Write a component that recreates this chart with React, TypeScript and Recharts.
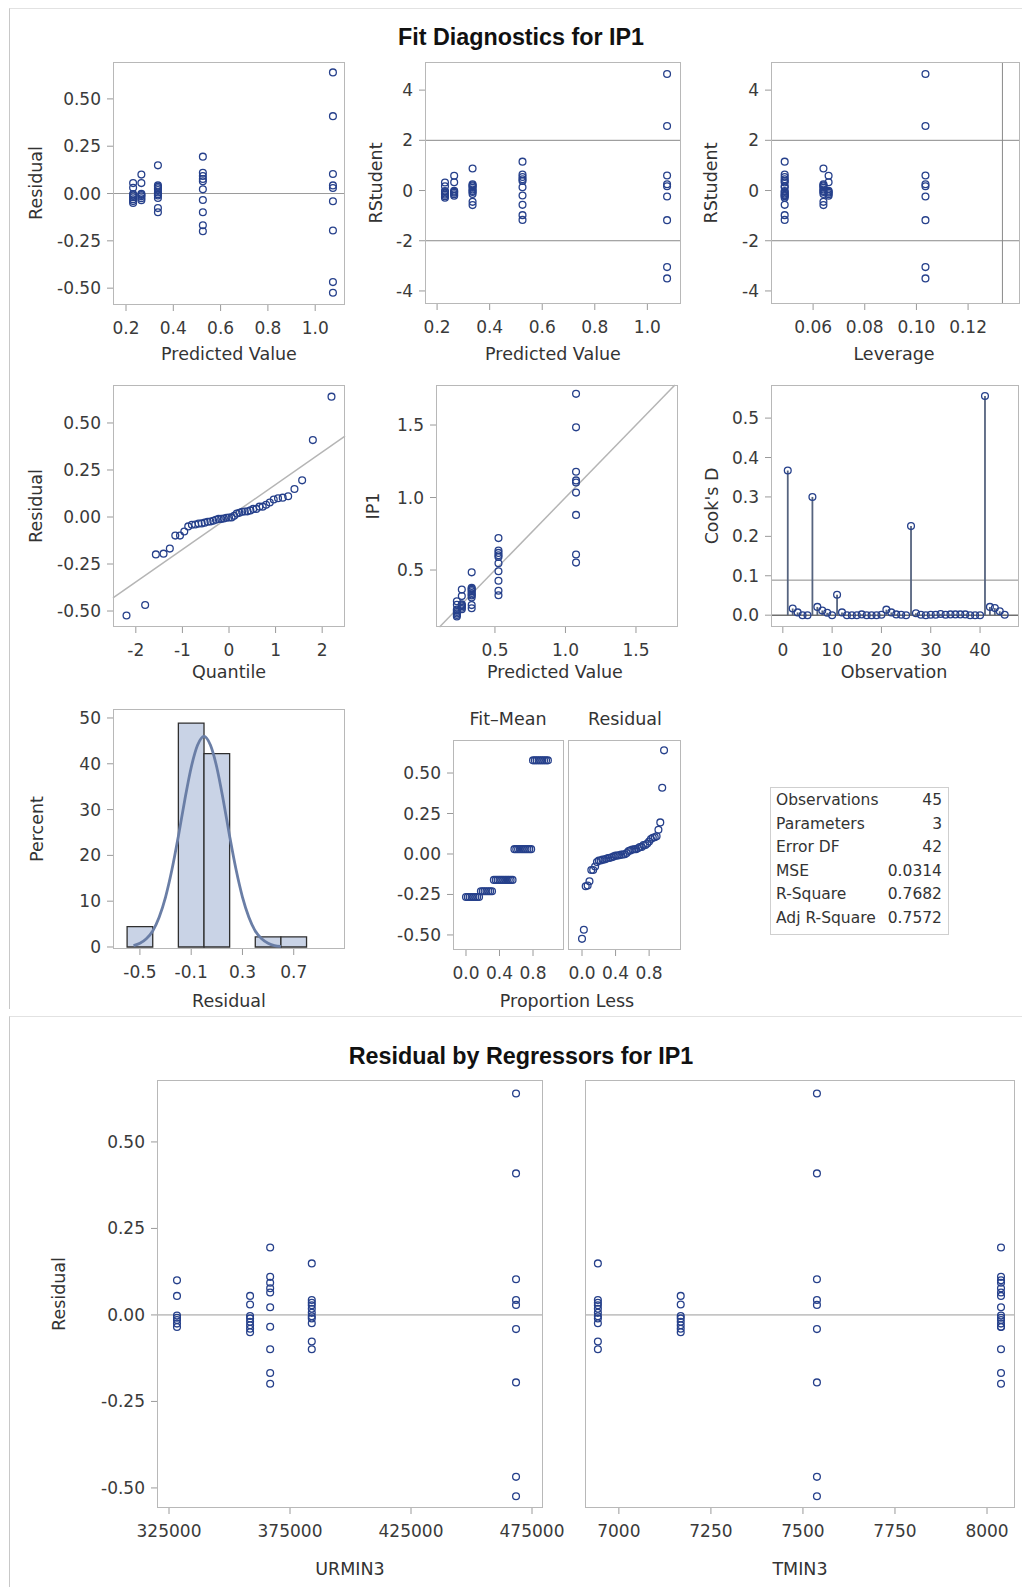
import React from 'react';
import {
  ScatterChart,
  ComposedChart,
  Scatter,
  Line,
  XAxis,
  YAxis,
  ReferenceLine,
  ReferenceArea,
  ErrorBar,
} from 'recharts';

// five fitted cells (A..E) of the model
const GROUP_URMIN3 = [358500, 328300, 366800, 384000, 468400];
const GROUP_TMIN3 = [7168, 8038, 8038, 6943, 7538];
const GROUP_PREDICTED = [0.23, 0.265, 0.525, 0.335, 1.075];
const GROUP_LEVERAGE = [0.049, 0.066, 0.049, 0.064, 0.1035];
const GROUP_FIT_MINUS_MEAN = [-0.266, -0.23, 0.03, -0.16, 0.578];

// per observation (1..45)
const OBS_GROUP = [
  4, 2, 3, 0, 1, 4, 2, 3, 2, 0, 4, 1, 0, 3, 1, 4, 0, 3, 1, 0, 4, 2, 3,
  0, 1, 4, 2, 3, 0, 1, 4, 2, 3, 0, 1, 4, 2, 3, 2, 3, 4, 2, 3, 2, 3,
];
const OBS_RESIDUAL = [
  -0.524, -0.168, -0.099, -0.003, -0.002, -0.468, -0.199, -0.077, -0.099, -0.01,
  -0.195, 0.1, -0.02, -0.004, -0.008, 0.043, -0.03, 0.006, -0.015, -0.04,
  0.103, 0.11, 0.018, -0.05, -0.025, 0.409, 0.093, 0.028, 0.03, -0.035,
  0.029, 0.077, 0.035, 0.055, 0.055, -0.041, 0.065, -0.01, 0.022, -0.024,
  0.64, 0.195, 0.149, -0.034, 0.043,
];
const OBS_RSTUDENT = [
  -3.5, -0.98, -0.58, -0.02, -0.01, -3.05, -1.17, -0.45, -0.57, -0.06,
  -1.18, 0.59, -0.12, -0.02, -0.05, 0.25, -0.17, 0.04, -0.09, -0.23,
  0.6, 0.64, 0.11, -0.29, -0.15, 2.57, 0.54, 0.17, 0.17, -0.21,
  0.17, 0.45, 0.21, 0.32, 0.33, -0.24, 0.38, -0.06, 0.13, -0.14,
  4.64, 1.15, 0.88, -0.2, 0.25,
];
const OBS_IP1 = [
  0.551, 0.357, 0.236, 0.227, 0.263, 0.607, 0.326, 0.258, 0.426, 0.22,
  0.88, 0.365, 0.21, 0.331, 0.257, 1.118, 0.2, 0.341, 0.25, 0.19,
  1.178, 0.635, 0.353, 0.18, 0.24, 1.484, 0.618, 0.363, 0.26, 0.23,
  1.104, 0.602, 0.37, 0.285, 0.32, 1.034, 0.59, 0.325, 0.547, 0.311,
  1.715, 0.72, 0.484, 0.491, 0.378,
];
const OBS_COOKS_D = [
  0.367, 0.017, 0.007, 0.0, 0.0, 0.3, 0.021, 0.012, 0.006, 0.0,
  0.052, 0.007, 0.0, 0.0, 0.0, 0.002, 0.0, 0.0, 0.0, 0.001,
  0.014, 0.007, 0.002, 0.001, 0.0, 0.226, 0.005, 0.001, 0.0, 0.001,
  0.001, 0.003, 0.001, 0.002, 0.002, 0.002, 0.002, 0.0, 0.0, 0.0,
  0.556, 0.021, 0.018, 0.01, 0.001,
];

const NORMAL_QUANTILES = [
  -2.2, -1.8, -1.57, -1.405, -1.27, -1.153, -1.052, -0.96, -0.875, -0.797,
  -0.724, -0.653, -0.586, -0.521, -0.459, -0.398, -0.339, -0.281, -0.223, -0.167,
  -0.111, -0.055, 0, 0.055, 0.111, 0.167, 0.223, 0.281, 0.339, 0.398,
  0.459, 0.521, 0.586, 0.653, 0.724, 0.797, 0.875, 0.96, 1.052, 1.153,
  1.27, 1.405, 1.57, 1.8, 2.2,
];
const PROPORTION_LESS = [
  0, 0.022, 0.044, 0.067, 0.089, 0.111, 0.133, 0.156, 0.178, 0.2,
  0.222, 0.244, 0.267, 0.289, 0.311, 0.333, 0.356, 0.378, 0.4, 0.422,
  0.444, 0.467, 0.489, 0.511, 0.533, 0.556, 0.578, 0.6, 0.622, 0.644,
  0.667, 0.689, 0.711, 0.733, 0.756, 0.778, 0.8, 0.822, 0.844, 0.867,
  0.889, 0.911, 0.933, 0.956, 0.978,
];

const HIST_BIN_LOW = [-0.6, -0.4, -0.2, 0, 0.2, 0.4, 0.6];
const HIST_PERCENT = [4.44, 0, 48.89, 42.22, 0, 2.22, 2.22];
const BIN_WIDTH = 0.2;
const DENSITY_X = [
  -0.55, -0.5, -0.45, -0.4, -0.35, -0.3, -0.25, -0.2, -0.15, -0.1, -0.05, 0,
  0.05, 0.1, 0.15, 0.2, 0.25, 0.3, 0.35, 0.4, 0.45, 0.5, 0.55, 0.6,
];
const DENSITY_PCT = [
  0.3, 0.8, 1.8, 3.5, 6.5, 10.9, 16.9, 24.2, 32.1, 39.2, 44.1, 46,
  44.1, 39.2, 32.1, 24.2, 16.9, 10.9, 6.5, 3.5, 1.8, 0.8, 0.3, 0.15,
];

const QQ_REF_X = [-2.49, 2.49];
const QQ_REF_Y = [-0.43, 0.43];
const RSTUDENT_LIMITS = [-2, 2];
const LEVERAGE_CUTOFF = 0.1333;
const COOKS_CUTOFF = 0.0889;

const STAT_LABELS = ['Observations', 'Parameters', 'Error DF', 'MSE', 'R-Square', 'Adj R-Square'];
const STAT_VALUES = ['45', '3', '42', '0.0314', '0.7682', '0.7572'];

// ---- look ----
const FONT = '"DejaVu Sans", sans-serif';
const MARK = '#26408b';
const TICK = { fill: '#3a3a3a', fontSize: 17, fontFamily: FONT };
const PAD = 10;
const XH = 44;

type Frame = { x: number; y: number; w: number; h: number };
const F1: Frame = { x: 113, y: 62, w: 232, h: 243 };
const F2: Frame = { x: 425, y: 62, w: 256, h: 242 };
const F3: Frame = { x: 771, y: 62, w: 249, h: 242 };
const F4: Frame = { x: 113, y: 385, w: 232, h: 242 };
const F5: Frame = { x: 436, y: 385, w: 242, h: 242 };
const F6: Frame = { x: 771, y: 385, w: 248, h: 242 };
const F7: Frame = { x: 113, y: 709, w: 232, h: 240 };
const F8A: Frame = { x: 453, y: 740, w: 111, h: 210 };
const F8B: Frame = { x: 568, y: 740, w: 113, h: 210 };
const F10: Frame = { x: 157, y: 1080, w: 386, h: 428 };
const F11: Frame = { x: 585, y: 1080, w: 430, h: 428 };

const fix = (d: number) => (v: number) => v.toFixed(d);

const xAx = (key: string, domain: number[], ticks: number[], fmt?: (v: number) => string) => ({
  type: 'number' as const,
  dataKey: key,
  domain,
  ticks,
  allowDataOverflow: true,
  interval: 0 as const,
  axisLine: false,
  tickLine: { stroke: '#9a9a9a' },
  tickSize: 6,
  tickMargin: 11,
  height: XH,
  tick: TICK,
  tickFormatter: fmt,
});

const yAx = (key: string, domain: number[], ticks: number[], yw: number, fmt?: (v: number) => string) => ({
  type: 'number' as const,
  dataKey: key,
  domain,
  ticks,
  allowDataOverflow: true,
  interval: 0 as const,
  axisLine: false,
  tickLine: { stroke: '#9a9a9a' },
  tickSize: 6,
  tickMargin: 6,
  width: yw,
  tick: TICK,
  tickFormatter: fmt,
});

const Ring = (p: any) =>
  p.cx == null ? <g /> : (
    <circle cx={p.cx} cy={p.cy} r={3.4} fill="none" stroke={MARK} strokeWidth={1.3} />
  );

const chartSize = (f: Frame, yw: number, right = PAD) => ({
  width: f.w + yw + right,
  height: f.h + XH + PAD,
  margin: { top: PAD, right, bottom: 0, left: 0 },
});

const Holder = ({ f, yw, children }: { f: Frame; yw: number; children: React.ReactNode }) => (
  <>
    <div style={{ position: 'absolute', left: f.x - yw, top: f.y - PAD }}>{children}</div>
    <div
      style={{
        position: 'absolute',
        left: f.x,
        top: f.y,
        width: f.w,
        height: f.h,
        border: '1px solid #b8b8b8',
        boxSizing: 'border-box',
        pointerEvents: 'none',
      }}
    />
  </>
);

const Txt = ({ x, y, text, rotate, size = 17.5 }: { x: number; y: number; text: string; rotate?: boolean; size?: number }) => (
  <div
    style={{
      position: 'absolute',
      left: x,
      top: y,
      transform: `translate(-50%, -50%)${rotate ? ' rotate(-90deg)' : ''}`,
      fontFamily: FONT,
      fontSize: size,
      color: '#333',
      whiteSpace: 'nowrap',
    }}
  >
    {text}
  </div>
);

const Title = ({ y, text }: { y: number; text: string }) => (
  <div
    style={{
      position: 'absolute',
      left: 521,
      top: y,
      transform: 'translate(-50%, -50%)',
      fontFamily: '"Liberation Sans", Arial, sans-serif',
      fontWeight: 'bold',
      fontSize: 23.3,
      color: '#111',
      whiteSpace: 'nowrap',
    }}
  >
    {text}
  </div>
);

export default function App() {
  const obs = OBS_GROUP.map((g, i) => ({
    n: i + 1,
    pred: GROUP_PREDICTED[g],
    lev: GROUP_LEVERAGE[g],
    ur: GROUP_URMIN3[g],
    tm: GROUP_TMIN3[g],
    resid: OBS_RESIDUAL[i],
    rstud: OBS_RSTUDENT[i],
    ip1: OBS_IP1[i],
    cook: OBS_COOKS_D[i],
    err: [OBS_COOKS_D[i], 0],
  }));

  const sortedResid = [...OBS_RESIDUAL].sort((a, b) => a - b);
  const qq = sortedResid.map((r, i) => ({ q: NORMAL_QUANTILES[i], r }));
  const fitMean = OBS_GROUP.map((g) => GROUP_FIT_MINUS_MEAN[g]).sort((a, b) => a - b);
  const rfFit = fitMean.map((v, i) => ({ p: PROPORTION_LESS[i], v }));
  const rfRes = sortedResid.map((v, i) => ({ p: PROPORTION_LESS[i], v }));
  const density = DENSITY_X.map((x, i) => ({ x, pct: DENSITY_PCT[i] }));

  const residTicks = [-0.5, -0.25, 0, 0.25, 0.5];
  const rsTicks = [-4, -2, 0, 2, 4];
  const predTicks = [0.2, 0.4, 0.6, 0.8, 1.0];

  return (
    <div
      style={{
        position: 'absolute',
        left: 0,
        top: 0,
        width: 1022,
        height: 1587,
        background: '#fff',
        overflow: 'hidden',
      }}
    >
      <div style={{ position: 'absolute', left: 9, top: 8, width: 1013, height: 1000, borderLeft: '1px solid #c8c8c8', borderTop: '1px solid #e2e2e2' }} />
      <div style={{ position: 'absolute', left: 9, top: 1016, width: 1013, height: 571, borderLeft: '1px solid #c8c8c8', borderTop: '1px solid #e2e2e2' }} />

      <Title y={37} text="Fit Diagnostics for IP1" />

      {/* Residual vs predicted */}
      <Holder f={F1} yw={70}>
        <ScatterChart {...chartSize(F1, 70)}>
          <XAxis {...xAx('pred', [0.145, 1.126], predTicks, fix(1))} />
          <YAxis {...yAx('resid', [-0.589, 0.695], residTicks, 70, fix(2))} />
          <ReferenceLine y={0} stroke="#9a9a9a" />
          <Scatter data={obs} shape={Ring} isAnimationActive={false} />
        </ScatterChart>
      </Holder>
      <Txt x={36} y={183} text="Residual" rotate />
      <Txt x={229} y={354} text="Predicted Value" />

      {/* RStudent vs predicted */}
      <Holder f={F2} yw={50}>
        <ScatterChart {...chartSize(F2, 50)}>
          <XAxis {...xAx('pred', [0.154, 1.128], predTicks, fix(1))} />
          <YAxis {...yAx('rstud', [-4.52, 5.12], rsTicks, 50)} />
          {RSTUDENT_LIMITS.map((v) => (
            <ReferenceLine key={v} y={v} stroke="#8a8a8a" />
          ))}
          <Scatter data={obs} shape={Ring} isAnimationActive={false} />
        </ScatterChart>
      </Holder>
      <Txt x={376} y={183} text="RStudent" rotate />
      <Txt x={553} y={354} text="Predicted Value" />

      {/* RStudent vs leverage */}
      <Holder f={F3} yw={50}>
        <ScatterChart {...chartSize(F3, 50)}>
          <XAxis {...xAx('lev', [0.0437, 0.1401], [0.06, 0.08, 0.1, 0.12], fix(2))} />
          <YAxis {...yAx('rstud', [-4.52, 5.12], rsTicks, 50)} />
          {RSTUDENT_LIMITS.map((v) => (
            <ReferenceLine key={v} y={v} stroke="#8a8a8a" />
          ))}
          <ReferenceLine x={LEVERAGE_CUTOFF} stroke="#8a8a8a" />
          <Scatter data={obs} shape={Ring} isAnimationActive={false} />
        </ScatterChart>
      </Holder>
      <Txt x={711} y={183} text="RStudent" rotate />
      <Txt x={894} y={354} text="Leverage" />

      {/* Q-Q */}
      <Holder f={F4} yw={70}>
        <ScatterChart {...chartSize(F4, 70)}>
          <XAxis {...xAx('q', [-2.49, 2.49], [-2, -1, 0, 1, 2])} />
          <YAxis {...yAx('r', [-0.585, 0.702], residTicks, 70, fix(2))} />
          <ReferenceLine
            segment={[
              { x: QQ_REF_X[0], y: QQ_REF_Y[0] },
              { x: QQ_REF_X[1], y: QQ_REF_Y[1] },
            ]}
            stroke="#b5b5b5"
            strokeWidth={1.5}
          />
          <Scatter data={qq} shape={Ring} isAnimationActive={false} />
        </ScatterChart>
      </Holder>
      <Txt x={36} y={506} text="Residual" rotate />
      <Txt x={229} y={672} text="Quantile" />

      {/* IP1 vs predicted */}
      <Holder f={F5} yw={60}>
        <ScatterChart {...chartSize(F5, 60)}>
          <XAxis {...xAx('pred', [0.082, 1.798], [0.5, 1.0, 1.5], fix(1))} />
          <YAxis {...yAx('ip1', [0.107, 1.776], [0.5, 1.0, 1.5], 60, fix(1))} />
          <ReferenceLine
            segment={[
              { x: 0.107, y: 0.107 },
              { x: 1.776, y: 1.776 },
            ]}
            stroke="#b5b5b5"
            strokeWidth={1.5}
          />
          <Scatter data={obs} shape={Ring} isAnimationActive={false} />
        </ScatterChart>
      </Holder>
      <Txt x={373} y={506} text="IP1" rotate />
      <Txt x={555} y={672} text="Predicted Value" />

      {/* Cook's D */}
      <Holder f={F6} yw={55}>
        <ScatterChart {...chartSize(F6, 55)}>
          <XAxis {...xAx('n', [-2.4, 47.9], [0, 10, 20, 30, 40])} />
          <YAxis {...yAx('cook', [-0.03, 0.584], [0, 0.1, 0.2, 0.3, 0.4, 0.5], 55, fix(1))} />
          <ReferenceLine y={COOKS_CUTOFF} stroke="#8a8a8a" />
          <ReferenceLine y={0} stroke="#6f6f6f" strokeWidth={1.5} />
          <Scatter data={obs} shape={Ring} isAnimationActive={false}>
            <ErrorBar dataKey="err" direction="y" width={0} stroke="#56647f" strokeWidth={1.8} isAnimationActive={false} />
          </Scatter>
        </ScatterChart>
      </Holder>
      <Txt x={712} y={506} text="Cook's D" rotate />
      <Txt x={894} y={672} text="Observation" />

      {/* histogram */}
      <Holder f={F7} yw={60}>
        <ComposedChart data={density} {...chartSize(F7, 60)}>
          <XAxis {...xAx('x', [-0.71, 1.1], [-0.5, -0.1, 0.3, 0.7], fix(1))} />
          <YAxis {...yAx('pct', [-0.44, 51.96], [0, 10, 20, 30, 40, 50], 60)} />
          {HIST_BIN_LOW.map((lo, i) =>
            HIST_PERCENT[i] > 0 ? (
              <ReferenceArea
                key={lo}
                x1={lo}
                x2={lo + BIN_WIDTH}
                y1={0}
                y2={HIST_PERCENT[i]}
                fill="#c9d3e6"
                fillOpacity={1}
                stroke="#2f2f2f"
                strokeWidth={1.3}
                ifOverflow="visible"
              />
            ) : null,
          )}
          <Line
            dataKey="pct"
            type="monotone"
            dot={false}
            stroke="#6a7ea6"
            strokeWidth={2.8}
            isAnimationActive={false}
          />
        </ComposedChart>
      </Holder>
      <Txt x={37} y={829} text="Percent" rotate />
      <Txt x={229} y={1001} text="Residual" />

      {/* residual-fit spread */}
      <Txt x={508} y={719} text="Fit–Mean" />
      <Txt x={625} y={719} text="Residual" />
      <Holder f={F8A} yw={70}>
        <ScatterChart {...chartSize(F8A, 70)}>
          <XAxis {...xAx('p', [-0.155, 1.17], [0, 0.4, 0.8], fix(1))} />
          <YAxis {...yAx('v', [-0.593, 0.704], residTicks, 70, fix(2))} />
          <Scatter data={rfFit} shape={Ring} isAnimationActive={false} />
        </ScatterChart>
      </Holder>
      <Holder f={F8B} yw={0}>
        <ScatterChart {...chartSize(F8B, 0)}>
          <XAxis {...xAx('p', [-0.167, 1.18], [0, 0.4, 0.8], fix(1))} />
          <YAxis type="number" dataKey="v" domain={[-0.593, 0.704]} allowDataOverflow hide />
          <Scatter data={rfRes} shape={Ring} isAnimationActive={false} />
        </ScatterChart>
      </Holder>
      <Txt x={567} y={1001} text="Proportion Less" />

      {/* fit statistics */}
      <div
        style={{
          position: 'absolute',
          left: 770,
          top: 787,
          width: 179,
          height: 148,
          border: '1px solid #cfcfcf',
          boxSizing: 'border-box',
          padding: '1px 6px 0 5px',
          fontFamily: FONT,
          fontSize: 15.5,
          color: '#333',
        }}
      >
        {STAT_LABELS.map((label, i) => (
          <div
            key={label}
            style={{ display: 'flex', justifyContent: 'space-between', height: 23.6, lineHeight: '23.6px' }}
          >
            <span>{label}</span>
            <span>{STAT_VALUES[i]}</span>
          </div>
        ))}
      </div>

      <Title y={1056} text="Residual by Regressors for IP1" />

      {/* residual by URMIN3 */}
      <Holder f={F10} yw={70}>
        <ScatterChart {...chartSize(F10, 70, 40)}>
          <XAxis {...xAx('ur', [320040, 479545], [325000, 375000, 425000, 475000])} />
          <YAxis {...yAx('resid', [-0.558, 0.679], residTicks, 70, fix(2))} />
          <ReferenceLine y={0} stroke="#9a9a9a" />
          <Scatter data={obs} shape={Ring} isAnimationActive={false} />
        </ScatterChart>
      </Holder>
      <Txt x={59} y={1294} text="Residual" rotate />
      <Txt x={350} y={1569} text="URMIN3" />

      {/* residual by TMIN3 */}
      <Holder f={F11} yw={0}>
        <ScatterChart {...chartSize(F11, 0)}>
          <XAxis {...xAx('tm', [6908, 8076], [7000, 7250, 7500, 7750, 8000])} />
          <YAxis type="number" dataKey="resid" domain={[-0.558, 0.679]} allowDataOverflow hide />
          <ReferenceLine y={0} stroke="#9a9a9a" />
          <Scatter data={obs} shape={Ring} isAnimationActive={false} />
        </ScatterChart>
      </Holder>
      <Txt x={800} y={1569} text="TMIN3" />
    </div>
  );
}
